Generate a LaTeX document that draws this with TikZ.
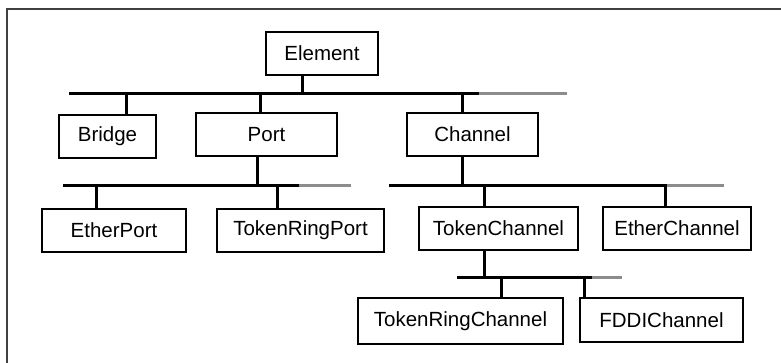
\documentclass[tikz,border=0pt]{standalone}
\usepackage{fontspec}
\setmainfont{Liberation Sans}
\usepackage{tikz}
\usetikzlibrary{positioning}

\begin{document}
\begin{tikzpicture}[x=1pt, y=-1pt,
    cls/.style={draw, line width=1.4pt, minimum height=43pt, inner sep=0pt,
                font=\fontsize{20.5}{24}\selectfont},
    bus/.style={line width=3pt},
    busgray/.style={line width=3pt, color=gray!90},
    stem/.style={line width=3pt}]
    % 
    \useasboundingbox (0,0) rectangle (781,363);
    \draw[line width=1.5pt, black!75] (7,363) -- (7,9) -- (781,9);

    % 
    \node[cls, minimum width=112pt] (element) at (322,53.5) {Element};
    \node[cls, minimum width=97pt] (bridge) at (107.5,136.5) {Bridge};
    \node[cls, minimum width=141pt] (port) at (266.5,134.5) {Port};
    \node[cls, minimum width=131pt] (channel) at (472.5,134.5) {Channel};
    \node[cls, minimum width=144pt] (etherport) at (114,230.5) {EtherPort};
    \node[cls, minimum width=167pt] (tokenringport) at (300.5,230.5) {TokenRingPort};
    \node[cls, minimum width=159pt] (tokenchannel) at (498.5,228.5) {TokenChannel};
    \node[cls, minimum width=148pt] (etherchannel) at (677,228.5) {EtherChannel};
    \node[cls, minimum width=205pt, minimum height=46pt] (tokenringchannel) at (460.5,321) {TokenRingChannel};
    \node[cls, minimum width=163pt, minimum height=44pt] (fddichannel) at (661.5,320) {FDDIChannel};

    % 
    \foreach \b/\x/\y/\k/\g in {busA/69/94/479/567, busB/63/186/299/351,
                                busC/389/186/667/724, busD/457/277/592/622} {
        \coordinate (\b) at (\x,\y);
        \draw[bus] (\b) -- (\k,\y);
        \draw[busgray] (\k,\y) -- (\g,\y);
    }

    % 
    \foreach \n/\a/\dx/\b in {element/south/-20/busA, bridge/north/18.5/busA,
                              port/north/-6.5/busA, channel/north/-10.5/busA,
                              port/south/-9.5/busB, etherport/north/-18/busB,
                              tokenringport/north/-23.5/busB,
                              channel/south/-10.5/busC, tokenchannel/north/-14.5/busC,
                              etherchannel/north/-12/busC,
                              tokenchannel/south/-14.5/busD,
                              tokenringchannel/north/40.5/busD,
                              fddichannel/north/-77.5/busD} {
        \path ([xshift=\dx pt]\n.\a) coordinate (s);
        \draw[stem] (s) -- (s |- \b);
    }
\end{tikzpicture}
\end{document}
